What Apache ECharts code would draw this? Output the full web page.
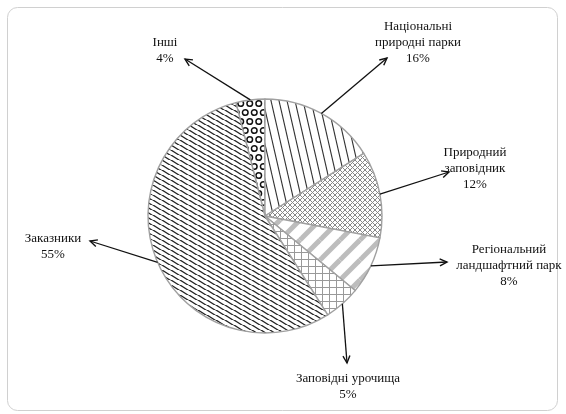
<!DOCTYPE html>
<html><head><meta charset="utf-8">
<script src="https://cdn.jsdelivr.net/npm/echarts@6/dist/echarts.min.js"></script>
<style>html,body{margin:0;padding:0;background:#fff}#c{width:566px;height:414px}</style>
</head><body><div id="c"></div>
<script>
// ---- data ----
const categories = ['Інші', 'Національні\nприродні парки', 'Природний\nзаповідник', 'Регіональний\nландшафтний парк', 'Заповідні урочища', 'Заказники'];
const values = [4, 16, 12, 8, 5, 55];

// ---- layout (label anchors and arrow tips, in pixels) ----
const labelPos = [[165, 51], [418, 43], [475, 169], [509, 266], [348, 387], [53, 247]];
const arrowTips = [[185, 59], [387, 58], [449, 172], [447, 262], [347, 363], [90, 241]];
const center = [265, 216];
const radius = 117;

function makeTile(w, h, draw) {
  const c = document.createElement('canvas');
  c.width = w; c.height = h;
  const g = c.getContext('2d');
  g.fillStyle = '#fff'; g.fillRect(0, 0, w, h);
  draw(g, w, h);
  return c;
}
function diagTile(w, h, color, lw, up) {
  return makeTile(w, h, (g) => {
    g.strokeStyle = color; g.lineWidth = lw;
    for (const [ox, oy] of [[0,0],[-w,0],[w,0],[0,-h],[0,h]]) {
      g.beginPath();
      if (up) { g.moveTo(ox, oy + h); g.lineTo(ox + w, oy); }
      else { g.moveTo(ox, oy); g.lineTo(ox + w, oy + h); }
      g.stroke();
    }
  });
}
const patterns = [
  makeTile(9, 18, (g) => {
    g.strokeStyle = '#111'; g.lineWidth = 1.5;
    for (const [x, y] of [[2.25,4.5],[6.75,13.5],[11.25,4.5],[-2.25,13.5],[2.25,22.5],[6.75,-4.5],[-2.25,-4.5],[11.25,22.5]]) {
      g.beginPath(); g.arc(x, y, 2.8, 0, Math.PI * 2); g.stroke();
    }
  }),
  diagTile(8, 35, '#333', 1.1, false),
  makeTile(5, 5, (g) => {
    g.strokeStyle = '#888'; g.lineWidth = 1;
    for (const [ox, oy] of [[0,0],[-5,0],[5,0],[0,-5],[0,5]]) {
      g.beginPath(); g.moveTo(ox, oy); g.lineTo(ox + 5, oy + 5); g.stroke();
      g.beginPath(); g.moveTo(ox, oy + 5); g.lineTo(ox + 5, oy); g.stroke();
    }
  }),
  diagTile(20, 20, '#bdbdbd', 5, true),
  makeTile(7, 7, (g) => {
    g.strokeStyle = '#999'; g.lineWidth = 1;
    g.beginPath(); g.moveTo(0, 0.5); g.lineTo(7, 0.5); g.stroke();
    g.beginPath(); g.moveTo(0.5, 0); g.lineTo(0.5, 7); g.stroke();
  }),
  diagTile(9, 5.7, '#222', 1.3, false)
];

const total = values.reduce((a, b) => a + b, 0);
const startAngle = 90 + 360 * values[0] / total;

// arrows from slice edge (mid-angle) to label
const graphics = [{
  type: 'rect', shape: { x: 7.5, y: 7.5, width: 550, height: 403, r: 10 },
  style: { fill: 'none', stroke: '#d0d0d0', lineWidth: 1 }, z: 0
}];
let cum = 0;
values.forEach((v, i) => {
  const mid = (startAngle - (cum + v / 2) / total * 360) * Math.PI / 180;
  cum += v;
  const sx = center[0] + radius * Math.cos(mid);
  const sy = center[1] - radius * Math.sin(mid);
  const [tx, ty] = arrowTips[i];
  const ang = Math.atan2(ty - sy, tx - sx);
  const L = 8, spread = 0.45;
  graphics.push({
    type: 'line', shape: { x1: sx, y1: sy, x2: tx, y2: ty },
    style: { stroke: '#111', lineWidth: 1.3 }, z: 10
  });
  graphics.push({
    type: 'polyline',
    shape: { points: [
      [tx - L * Math.cos(ang - spread), ty - L * Math.sin(ang - spread)],
      [tx, ty],
      [tx - L * Math.cos(ang + spread), ty - L * Math.sin(ang + spread)]
    ] },
    style: { stroke: '#111', lineWidth: 1.4, fill: 'none' }, z: 10
  });
});

const chart = echarts.init(document.getElementById('c'), null, { renderer: 'canvas' });
chart.setOption({
  backgroundColor: '#fff',
  animation: false,
  graphic: graphics,
  series: [{
    type: 'pie',
    center: center,
    radius: radius,
    startAngle: startAngle,
    clockwise: true,
    avoidLabelOverlap: false,
    data: values.map((v, i) => ({
      name: categories[i], value: v,
      itemStyle: { color: { image: patterns[i], repeat: 'repeat' } }
    })),
    itemStyle: { borderColor: '#a0a0a0', borderWidth: 1.4 },
    emphasis: { disabled: true },
    label: {
      show: true,
      formatter: '{b}\n{c}%',
      fontFamily: '"Liberation Serif", "Times New Roman", serif',
      fontSize: 13,
      lineHeight: 16,
      color: '#111',
      align: 'center'
    },
    labelLine: { show: false },
    labelLayout: (p) => ({
      x: labelPos[p.dataIndex][0],
      y: labelPos[p.dataIndex][1],
      align: 'center',
      verticalAlign: 'middle'
    })
  }]
});
</script>
</body></html>
